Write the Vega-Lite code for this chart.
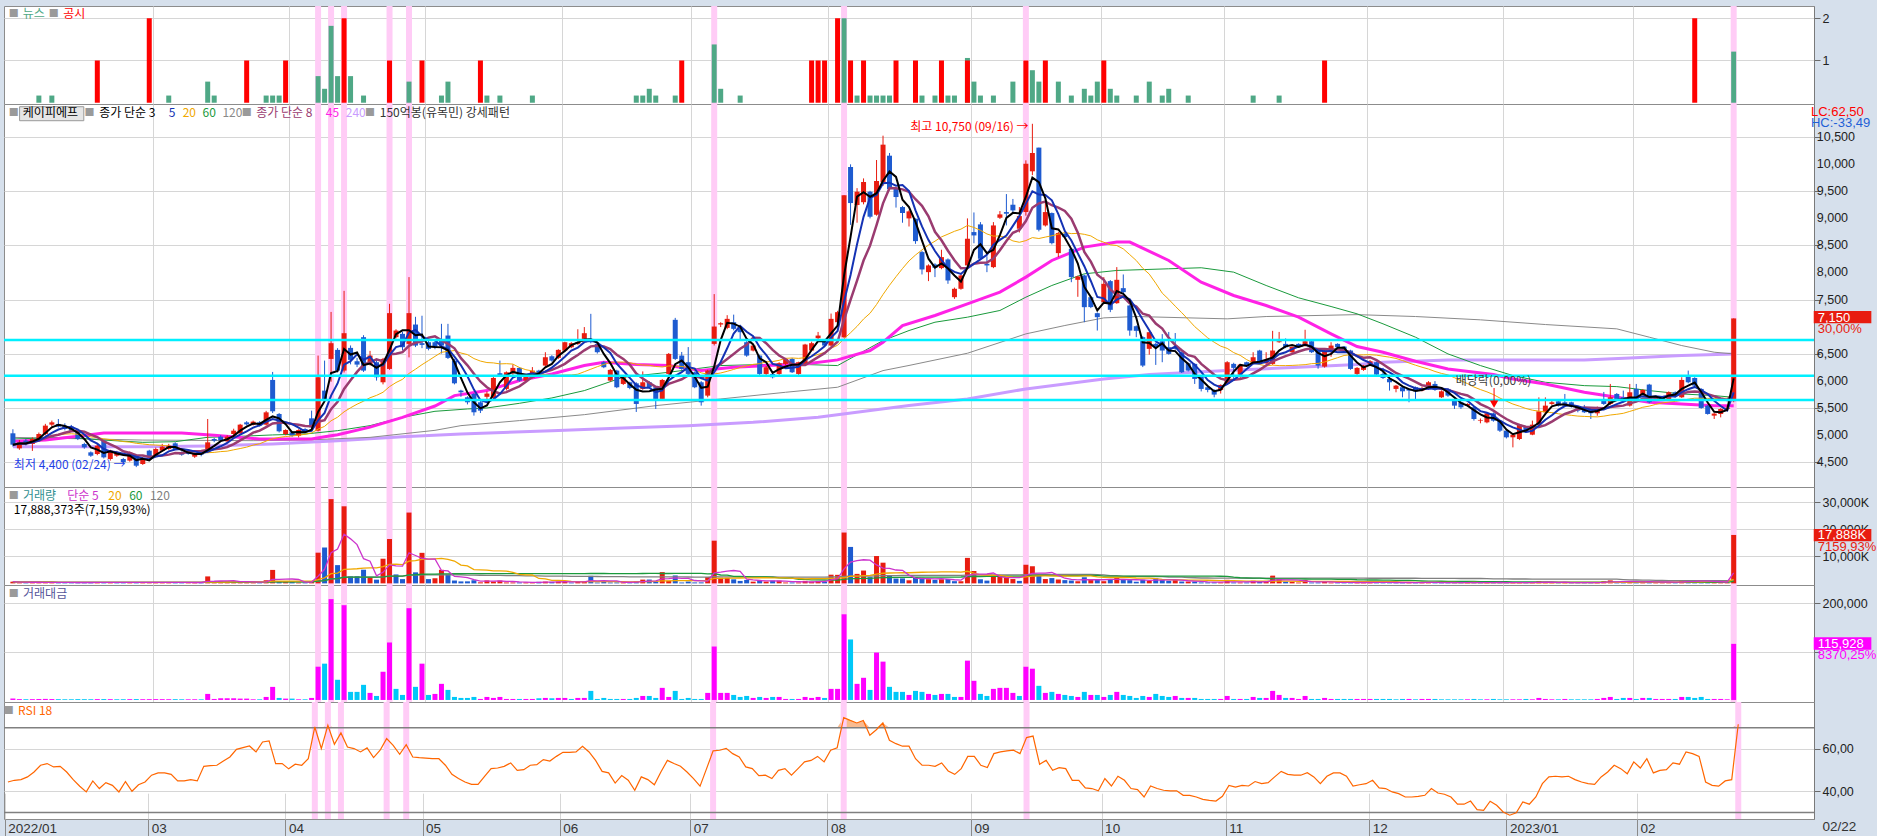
{
  "$schema": "https://vega.github.io/schema/vega-lite/v6.json",
  "background": "#d6e0ec",
  "padding": {"left": 2, "top": 2, "right": 0, "bottom": 0},
  "spacing": 0,
  "bounds": "flush",
  "config": {
    "view": {"stroke": "#8c8c8c", "fill": "#ffffff"},
    "axis": {"labelFont": "Liberation Sans", "labelFontSize": 12.5, "labelColor": "#222222", "tickColor": "#6a6a6a", "domainColor": "#7a7a7a", "gridColor": "#d6d6d6", "labelPadding": 2, "labelOverlap": false},
    "text": {"font": "Noto Sans CJK KR", "fontSize": 12}
  },
  "datasets": {
    "d": [
      {"i":0,"o":5025,"h":5100,"l":4780,"c":4815,"v":623,"a":3000,"r":44.4},
      {"i":1,"o":4747,"h":4900,"l":4720,"c":4858,"v":371,"a":1800,"r":45.2},
      {"i":2,"o":4890,"h":4920,"l":4800,"c":4840,"v":331,"a":1600,"r":45.5},
      {"i":3,"o":4827,"h":4950,"l":4700,"c":4920,"v":346,"a":1700,"r":46.8},
      {"i":4,"o":4920,"h":5040,"l":4900,"c":5012,"v":399,"a":2000,"r":49.1,"n":0.17},
      {"i":5,"o":5012,"h":5200,"l":4990,"c":5167,"v":426,"a":2200,"r":52.3},
      {"i":6,"o":5185,"h":5260,"l":5150,"c":5228,"v":363,"a":1900,"r":53.1,"n":0.17},
      {"i":7,"o":5198,"h":5290,"l":5130,"c":5148,"v":330,"a":1700,"r":51.5},
      {"i":8,"o":5167,"h":5210,"l":5080,"c":5105,"v":294,"a":1500,"r":51.8},
      {"i":9,"o":5148,"h":5180,"l":5050,"c":5074,"v":296,"a":1500,"r":49.1},
      {"i":10,"o":5086,"h":5110,"l":4900,"c":4920,"v":366,"a":1800,"r":45.5},
      {"i":11,"o":4827,"h":4850,"l":4740,"c":4765,"v":357,"a":1700,"r":42.4},
      {"i":12,"o":4673,"h":4690,"l":4590,"c":4611,"v":347,"a":1600,"r":39.7},
      {"i":13,"o":4642,"h":4830,"l":4620,"c":4796,"v":375,"a":1800,"r":44.9,"g":1},
      {"i":14,"o":4889,"h":4900,"l":4560,"c":4580,"v":415,"a":1900,"r":41.3},
      {"i":15,"o":4550,"h":4720,"l":4520,"c":4704,"v":361,"a":1700,"r":44.1},
      {"i":16,"o":4611,"h":4700,"l":4590,"c":4673,"v":321,"a":1500,"r":42.8},
      {"i":17,"o":4550,"h":4570,"l":4470,"c":4490,"v":356,"a":1600,"r":39.7},
      {"i":18,"o":4520,"h":4690,"l":4500,"c":4673,"v":364,"a":1700,"r":44.6},
      {"i":19,"o":4611,"h":4630,"l":4400,"c":4426,"v":429,"a":1900,"r":40.0},
      {"i":20,"o":4457,"h":4580,"l":4440,"c":4568,"v":350,"a":1600,"r":43.1},
      {"i":21,"o":4704,"h":4720,"l":4560,"c":4580,"v":371,"a":1700,"r":44.4,"g":2},
      {"i":22,"o":4611,"h":4760,"l":4600,"c":4735,"v":380,"a":1800,"r":47.6},
      {"i":23,"o":4704,"h":4830,"l":4690,"c":4778,"v":356,"a":1700,"r":48.7},
      {"i":24,"o":4735,"h":4830,"l":4720,"c":4796,"v":334,"a":1600,"r":48.7,"n":0.17},
      {"i":25,"o":4840,"h":4860,"l":4720,"c":4735,"v":359,"a":1700,"r":48.0},
      {"i":26,"o":4673,"h":4690,"l":4610,"c":4630,"v":324,"a":1500,"r":44.9},
      {"i":27,"o":4673,"h":4680,"l":4630,"c":4642,"v":302,"a":1400,"r":44.9},
      {"i":28,"o":4593,"h":4670,"l":4570,"c":4654,"v":322,"a":1500,"r":45.5},
      {"i":29,"o":4654,"h":4660,"l":4600,"c":4630,"v":302,"a":1400,"r":44.9},
      {"i":30,"o":4673,"h":5290,"l":4660,"c":4858,"v":2573,"a":12500,"r":51.8,"n":0.5},
      {"i":31,"o":4920,"h":4940,"l":4860,"c":4889,"v":430,"a":2100,"r":52.1,"n":0.17},
      {"i":32,"o":4963,"h":4990,"l":4870,"c":4895,"v":716,"a":3500,"r":52.3},
      {"i":33,"o":4877,"h":4990,"l":4860,"c":4963,"v":705,"a":3500,"r":54.3},
      {"i":34,"o":5012,"h":5110,"l":4990,"c":5074,"v":690,"a":3500,"r":56.2},
      {"i":35,"o":5025,"h":5200,"l":5000,"c":5185,"v":540,"a":2800,"r":59.8},
      {"i":36,"o":5228,"h":5250,"l":5170,"c":5190,"v":540,"a":2800,"r":60.6,"g":1},
      {"i":37,"o":5185,"h":5260,"l":5170,"c":5241,"v":267,"a":1400,"r":61.4},
      {"i":38,"o":5228,"h":5250,"l":5150,"c":5167,"v":271,"a":1400,"r":58.6},
      {"i":39,"o":5185,"h":5440,"l":5170,"c":5413,"v":1155,"a":6250,"r":63.3,"n":0.17},
      {"i":40,"o":6012,"h":6160,"l":5400,"c":5432,"v":4970,"a":27000,"r":63.8,"n":0.17},
      {"i":41,"o":5383,"h":5400,"l":5040,"c":5062,"v":830,"a":4200,"r":53.1,"n":0.17},
      {"i":42,"o":5012,"h":5100,"l":4990,"c":5086,"v":551,"a":2800,"r":53.1,"g":1},
      {"i":43,"o":5043,"h":5060,"l":4960,"c":4980,"v":562,"a":2800,"r":50.6},
      {"i":44,"o":4980,"h":5100,"l":4950,"c":5086,"v":275,"a":1400,"r":52.8},
      {"i":45,"o":5105,"h":5120,"l":5040,"c":5062,"v":277,"a":1400,"r":52.3},
      {"i":46,"o":5302,"h":5444,"l":5120,"c":5136,"v":818,"a":4200,"r":55.4},
      {"i":47,"o":5074,"h":6463,"l":5060,"c":6062,"v":11341,"a":68750,"r":70.4,"n":0.63,"hl":1},
      {"i":48,"o":5815,"h":6370,"l":5640,"c":5660,"v":13251,"a":75000,"r":60.2,"n":0.33},
      {"i":49,"o":6401,"h":7270,"l":5980,"c":6692,"v":31127,"a":208300,"r":71.2,"n":1.82,"hl":1},
      {"i":50,"o":6568,"h":6600,"l":6150,"c":6185,"v":6742,"a":41700,"r":62.2,"n":0.63},
      {"i":51,"o":6185,"h":7660,"l":6150,"c":6877,"v":28472,"a":195800,"r":67.6,"g":2,"hl":1},
      {"i":52,"o":6605,"h":6650,"l":6300,"c":6383,"v":2616,"a":16700,"r":60.9,"n":0.63},
      {"i":53,"o":6358,"h":6420,"l":6250,"c":6296,"v":2652,"a":16700,"r":60.2},
      {"i":54,"o":6803,"h":6840,"l":6160,"c":6185,"v":5052,"a":31250,"r":58.6,"n":0.17},
      {"i":55,"o":6309,"h":6550,"l":6280,"c":6463,"v":2259,"a":14600,"r":60.5},
      {"i":56,"o":6340,"h":6380,"l":6000,"c":6062,"v":1369,"a":8300,"r":55.9},
      {"i":57,"o":5969,"h":6420,"l":5930,"c":6401,"v":9108,"a":58300,"r":59.4},
      {"i":58,"o":6216,"h":7420,"l":6200,"c":7248,"v":16384,"a":118750,"r":64.9,"g":1,"hl":1},
      {"i":59,"o":6803,"h":6950,"l":6780,"c":6926,"v":3306,"a":22900,"r":61.7},
      {"i":60,"o":6865,"h":6900,"l":6560,"c":6617,"v":1572,"a":10400,"r":57.5},
      {"i":61,"o":6679,"h":7914,"l":6430,"c":7248,"v":26159,"a":189600,"r":62.0,"n":0.5,"hl":1},
      {"i":62,"o":7037,"h":7180,"l":6620,"c":6648,"v":4076,"a":27100,"r":56.2},
      {"i":63,"o":6692,"h":7200,"l":6600,"c":6660,"v":11282,"a":75000,"r":55.9,"g":1},
      {"i":64,"o":6710,"h":6750,"l":6560,"c":6587,"v":1579,"a":10400,"r":55.7},
      {"i":65,"o":6710,"h":6740,"l":6580,"c":6617,"v":1889,"a":12500,"r":55.4},
      {"i":66,"o":6741,"h":7050,"l":6500,"c":6648,"v":5009,"a":33300,"r":55.4,"n":0.17},
      {"i":67,"o":6834,"h":7050,"l":6400,"c":6420,"v":3240,"a":20800,"r":52.3,"n":0.5},
      {"i":68,"o":6370,"h":6400,"l":5930,"c":5950,"v":1050,"a":6250,"r":48.0},
      {"i":69,"o":5815,"h":5830,"l":5700,"c":5784,"v":726,"a":4200,"r":46.0},
      {"i":70,"o":5691,"h":5710,"l":5560,"c":5599,"v":750,"a":4200,"r":44.4},
      {"i":71,"o":5753,"h":5770,"l":5352,"c":5414,"v":1154,"a":6250,"r":43.3},
      {"i":72,"o":5599,"h":5620,"l":5400,"c":5444,"v":386,"a":2100,"r":43.3,"g":1},
      {"i":73,"o":5700,"h":5800,"l":5640,"c":5760,"v":1085,"a":6250,"r":47.1,"n":0.17},
      {"i":74,"o":5679,"h":6070,"l":5650,"c":6049,"v":694,"a":4200,"r":50.7},
      {"i":75,"o":6136,"h":6370,"l":6070,"c":6093,"v":1026,"a":6250,"r":51.0,"n":0.17},
      {"i":76,"o":5846,"h":6170,"l":5820,"c":6154,"v":341,"a":2100,"r":51.8},
      {"i":77,"o":6136,"h":6300,"l":6100,"c":6235,"v":337,"a":2100,"r":53.4},
      {"i":78,"o":6235,"h":6250,"l":5980,"c":6000,"v":350,"a":2100,"r":49.9},
      {"i":79,"o":6000,"h":6110,"l":5980,"c":6093,"v":345,"a":2100,"r":50.2},
      {"i":80,"o":6062,"h":6250,"l":6040,"c":6185,"v":340,"a":2100,"r":52.3,"n":0.17},
      {"i":81,"o":6185,"h":6200,"l":6100,"c":6123,"v":572,"a":3500,"r":52.6},
      {"i":82,"o":6278,"h":6525,"l":6260,"c":6432,"v":653,"a":4200,"r":55.0},
      {"i":83,"o":6450,"h":6470,"l":6350,"c":6370,"v":549,"a":3500,"r":54.3},
      {"i":84,"o":6420,"h":6580,"l":6400,"c":6568,"v":639,"a":4200,"r":56.5},
      {"i":85,"o":6556,"h":6720,"l":6530,"c":6710,"v":626,"a":4200,"r":58.4},
      {"i":86,"o":6617,"h":6710,"l":6600,"c":6692,"v":314,"a":2100,"r":58.4},
      {"i":87,"o":6679,"h":6950,"l":6660,"c":6710,"v":626,"a":4200,"r":58.6},
      {"i":88,"o":6710,"h":6990,"l":6700,"c":6877,"v":611,"a":4200,"r":61.3},
      {"i":89,"o":6772,"h":7235,"l":6690,"c":6710,"v":2794,"a":18750,"r":58.6},
      {"i":90,"o":6679,"h":6700,"l":6500,"c":6525,"v":322,"a":2100,"r":54.6},
      {"i":91,"o":6340,"h":6360,"l":6230,"c":6247,"v":672,"a":4200,"r":49.4},
      {"i":92,"o":6000,"h":6215,"l":5980,"c":6198,"v":339,"a":2100,"r":48.7},
      {"i":93,"o":6185,"h":6200,"l":5860,"c":5877,"v":357,"a":2100,"r":43.9},
      {"i":94,"o":5938,"h":6080,"l":5920,"c":6062,"v":346,"a":2100,"r":47.4},
      {"i":95,"o":5969,"h":5980,"l":5840,"c":5864,"v":358,"a":2100,"r":45.2},
      {"i":96,"o":5950,"h":5970,"l":5420,"c":5568,"v":754,"a":4200,"r":40.5,"n":0.17},
      {"i":97,"o":5846,"h":6170,"l":5830,"c":5969,"v":1390,"a":8300,"r":46.8,"n":0.17},
      {"i":98,"o":5969,"h":5990,"l":5860,"c":5877,"v":1412,"a":8300,"r":45.5,"n":0.33},
      {"i":99,"o":5877,"h":5890,"l":5475,"c":5661,"v":742,"a":4200,"r":43.1,"n":0.17},
      {"i":100,"o":5661,"h":6030,"l":5640,"c":6012,"v":4158,"a":25000,"r":49.1},
      {"i":101,"o":6123,"h":6510,"l":6100,"c":6494,"v":962,"a":6250,"r":54.6},
      {"i":102,"o":7124,"h":7160,"l":6380,"c":6401,"v":2929,"a":18750,"r":53.1,"n":0.17},
      {"i":103,"o":6463,"h":6530,"l":6200,"c":6216,"v":338,"a":2100,"r":51.8,"g":1},
      {"i":104,"o":6340,"h":6620,"l":6100,"c":6123,"v":686,"a":4200,"r":49.1},
      {"i":105,"o":6154,"h":6170,"l":5860,"c":5877,"v":357,"a":2100,"r":46.0},
      {"i":106,"o":5969,"h":5990,"l":5537,"c":5599,"v":375,"a":2100,"r":42.4},
      {"i":107,"o":5722,"h":6200,"l":5691,"c":6185,"v":2361,"a":14600,"r":50.7},
      {"i":108,"o":6679,"h":7600,"l":6650,"c":7000,"v":15771,"a":110400,"r":59.1,"n":1.38,"hl":1},
      {"i":109,"o":7037,"h":7080,"l":6990,"c":7062,"v":2067,"a":14600,"r":59.4,"n":0.33},
      {"i":110,"o":6975,"h":7210,"l":6950,"c":7142,"v":2044,"a":14600,"r":60.3},
      {"i":111,"o":7080,"h":7220,"l":6930,"c":6957,"v":1495,"a":10400,"r":57.8},
      {"i":112,"o":6988,"h":7000,"l":6760,"c":6895,"v":906,"a":6250,"r":56.2,"n":0.17},
      {"i":113,"o":6710,"h":6730,"l":6440,"c":6463,"v":1284,"a":8300,"r":51.5},
      {"i":114,"o":6556,"h":6660,"l":6540,"c":6648,"v":632,"a":4200,"r":50.7},
      {"i":115,"o":6463,"h":6480,"l":6100,"c":6123,"v":1021,"a":6250,"r":47.4},
      {"i":116,"o":6123,"h":6270,"l":6100,"c":6247,"v":672,"a":4200,"r":47.6},
      {"i":117,"o":6123,"h":6140,"l":6040,"c":6062,"v":1031,"a":6250,"r":46.0},
      {"i":118,"o":6123,"h":6340,"l":6100,"c":6321,"v":989,"a":6250,"r":49.9},
      {"i":119,"o":6309,"h":6420,"l":6290,"c":6401,"v":328,"a":2100,"r":50.7},
      {"i":120,"o":6401,"h":6420,"l":6140,"c":6154,"v":341,"a":2100,"r":47.6},
      {"i":121,"o":6123,"h":6350,"l":6100,"c":6340,"v":331,"a":2100,"r":50.7},
      {"i":122,"o":6309,"h":6680,"l":6290,"c":6667,"v":937,"a":6250,"r":53.9},
      {"i":123,"o":6556,"h":6720,"l":6540,"c":6692,"v":628,"a":4200,"r":54.6,"g":1},
      {"i":124,"o":6784,"h":6900,"l":6770,"c":6833,"v":915,"a":6250,"r":56.5,"g":1},
      {"i":125,"o":6741,"h":6760,"l":6630,"c":6648,"v":632,"a":4200,"r":53.9,"g":1},
      {"i":126,"o":6648,"h":7240,"l":6630,"c":7142,"v":3206,"a":22900,"r":59.4},
      {"i":127,"o":7080,"h":7290,"l":7060,"c":7266,"v":3152,"a":22900,"r":60.6,"g":2},
      {"i":128,"o":6803,"h":9430,"l":6790,"c":9426,"v":18778,"a":177000,"r":74.8,"n":2,"hl":1},
      {"i":129,"o":9951,"h":10000,"l":8880,"c":9284,"v":13464,"a":125000,"r":73.5,"g":1},
      {"i":130,"o":9247,"h":9560,"l":8920,"c":9494,"v":3507,"a":33300,"r":72.3,"n":0.17},
      {"i":131,"o":9300,"h":9740,"l":9260,"c":9673,"v":4735,"a":45800,"r":73.5,"g":1},
      {"i":132,"o":9494,"h":9510,"l":9000,"c":9031,"v":2303,"a":20800,"r":66.5,"n":0.17},
      {"i":133,"o":9068,"h":10080,"l":9050,"c":9692,"v":10101,"a":97900,"r":69.1,"n":0.17},
      {"i":134,"o":9667,"h":10530,"l":9600,"c":10364,"v":7642,"a":79200,"r":72.3,"n":0.17},
      {"i":135,"o":10160,"h":10210,"l":9520,"c":9543,"v":2840,"a":27100,"r":64.1,"n":0.17},
      {"i":136,"o":9550,"h":9560,"l":9200,"c":9395,"v":1778,"a":16700,"r":62.5,"g":1},
      {"i":137,"o":9210,"h":9230,"l":8920,"c":9100,"v":1835,"a":16700,"r":61.3},
      {"i":138,"o":9000,"h":9150,"l":8850,"c":9130,"v":1139,"a":10400,"r":61.3},
      {"i":139,"o":8994,"h":9000,"l":8530,"c":8580,"v":2185,"a":18750,"r":55.4,"g":1},
      {"i":140,"o":8377,"h":8400,"l":7963,"c":8056,"v":2073,"a":16700,"r":52.3,"n":0.17},
      {"i":141,"o":8006,"h":8150,"l":7840,"c":8130,"v":1537,"a":12500,"r":52.3},
      {"i":142,"o":8148,"h":8170,"l":7914,"c":8087,"v":1286,"a":10400,"r":51.8,"n":0.17},
      {"i":143,"o":8081,"h":8420,"l":8060,"c":8284,"v":1509,"a":12500,"r":53.4,"g":1},
      {"i":144,"o":8241,"h":8260,"l":7790,"c":7852,"v":1592,"a":12500,"r":49.6,"n":0.17},
      {"i":145,"o":7543,"h":7720,"l":7512,"c":7698,"v":812,"a":6250,"r":48.0,"n":0.17},
      {"i":146,"o":7698,"h":7960,"l":7680,"c":7945,"v":787,"a":6250,"r":50.7},
      {"i":147,"o":8130,"h":9000,"l":8100,"c":8624,"v":9421,"a":81250,"r":56.5,"n":1.06,"g":1},
      {"i":148,"o":8747,"h":9110,"l":8540,"c":8685,"v":4560,"a":39600,"r":56.5,"n":0.5},
      {"i":149,"o":8889,"h":8932,"l":8230,"c":8254,"v":1514,"a":12500,"r":52.3,"n":0.17},
      {"i":150,"o":8160,"h":8300,"l":8006,"c":8130,"v":1021,"a":8300,"r":51.2},
      {"i":151,"o":8099,"h":8932,"l":8080,"c":8870,"v":2582,"a":22900,"r":57.8,"n":0.17},
      {"i":152,"o":9012,"h":9136,"l":8990,"c":9074,"v":2755,"a":25000,"r":58.6},
      {"i":153,"o":9117,"h":9450,"l":8870,"c":9087,"v":2751,"a":25000,"r":59.1},
      {"i":154,"o":9253,"h":9360,"l":9100,"c":9148,"v":1596,"a":14600,"r":59.4,"n":0.5},
      {"i":155,"o":8809,"h":9210,"l":8740,"c":9043,"v":918,"a":8300,"r":57.8},
      {"i":156,"o":9117,"h":10074,"l":9050,"c":10012,"v":6867,"a":68750,"r":65.4,"g":1,"hl":1},
      {"i":157,"o":9871,"h":10750,"l":9800,"c":10210,"v":6327,"a":64600,"r":66.1,"n":0.77},
      {"i":158,"o":10309,"h":10309,"l":8760,"c":8790,"v":3322,"a":29200,"r":52.8,"n":0.5},
      {"i":159,"o":8870,"h":9300,"l":8850,"c":9117,"v":1601,"a":14600,"r":54.6,"g":1},
      {"i":160,"o":9099,"h":9110,"l":8519,"c":8543,"v":1955,"a":16700,"r":49.9},
      {"i":161,"o":8358,"h":8750,"l":8284,"c":8729,"v":1432,"a":12500,"r":51.2,"n":0.5},
      {"i":162,"o":8716,"h":8730,"l":8640,"c":8654,"v":1202,"a":10400,"r":50.7},
      {"i":163,"o":8438,"h":8450,"l":7820,"c":7914,"v":1049,"a":8300,"r":45.2,"n":0.17},
      {"i":164,"o":7864,"h":7940,"l":7550,"c":7926,"v":789,"a":6250,"r":45.2},
      {"i":165,"o":7945,"h":7960,"l":7080,"c":7358,"v":2270,"a":16700,"r":41.6,"n":0.33},
      {"i":166,"o":7543,"h":7560,"l":7340,"c":7360,"v":1413,"a":10400,"r":41.3,"n":0.17},
      {"i":167,"o":7247,"h":7260,"l":6926,"c":7173,"v":1450,"a":10400,"r":40.2,"n":0.5},
      {"i":168,"o":7451,"h":7914,"l":7430,"c":7790,"v":802,"a":6250,"r":46.0,"g":1},
      {"i":169,"o":7840,"h":7860,"l":7266,"c":7309,"v":1423,"a":10400,"r":42.5,"n":0.33},
      {"i":170,"o":7432,"h":8099,"l":7420,"c":7864,"v":2124,"a":16700,"r":47.1,"n":0.17},
      {"i":171,"o":7710,"h":7963,"l":7620,"c":7636,"v":1362,"a":10400,"r":45.2},
      {"i":172,"o":7389,"h":7400,"l":6830,"c":6926,"v":1198,"a":8300,"r":41.3},
      {"i":173,"o":7006,"h":7020,"l":6803,"c":6920,"v":606,"a":4200,"r":40.8,"n":0.17},
      {"i":174,"o":6803,"h":6820,"l":6250,"c":6278,"v":1322,"a":8300,"r":37.3},
      {"i":175,"o":6587,"h":6900,"l":6480,"c":6895,"v":906,"a":6250,"r":42.5,"n":0.5},
      {"i":176,"o":6679,"h":6700,"l":6290,"c":6617,"v":1889,"a":12500,"r":41.3},
      {"i":177,"o":6728,"h":6860,"l":6340,"c":6556,"v":1266,"a":8300,"r":40.5,"n":0.17},
      {"i":178,"o":6617,"h":6900,"l":6480,"c":6494,"v":962,"a":6250,"r":40.2,"n":0.33},
      {"i":179,"o":6617,"h":6880,"l":6570,"c":6587,"v":1260,"a":8300,"r":40.2},
      {"i":180,"o":6525,"h":6540,"l":6140,"c":6154,"v":682,"a":4200,"r":38.1},
      {"i":181,"o":6321,"h":6330,"l":6170,"c":6185,"v":679,"a":4200,"r":38.1,"n":0.17},
      {"i":182,"o":6309,"h":6320,"l":5938,"c":6031,"v":696,"a":4200,"r":37.3},
      {"i":183,"o":6074,"h":6090,"l":5800,"c":5846,"v":359,"a":2100,"r":36.2},
      {"i":184,"o":5877,"h":5890,"l":5784,"c":5827,"v":360,"a":2100,"r":35.7},
      {"i":185,"o":5827,"h":5840,"l":5691,"c":5741,"v":366,"a":2100,"r":35.4},
      {"i":186,"o":5827,"h":5930,"l":5760,"c":5920,"v":355,"a":2100,"r":37.6},
      {"i":187,"o":5938,"h":6360,"l":5920,"c":6340,"v":1309,"a":8300,"r":42.8},
      {"i":188,"o":6309,"h":6330,"l":6000,"c":6235,"v":337,"a":2100,"r":42.0},
      {"i":189,"o":6111,"h":6310,"l":6030,"c":6296,"v":334,"a":2100,"r":42.8},
      {"i":190,"o":6340,"h":6350,"l":6260,"c":6278,"v":335,"a":2100,"r":42.5},
      {"i":191,"o":6321,"h":6525,"l":6300,"c":6432,"v":972,"a":6250,"r":44.6,"n":0.17},
      {"i":192,"o":6556,"h":6570,"l":6320,"c":6340,"v":662,"a":4200,"r":43.6},
      {"i":193,"o":6321,"h":6525,"l":6300,"c":6383,"v":658,"a":4200,"r":44.1},
      {"i":194,"o":6309,"h":6920,"l":6290,"c":6556,"v":2860,"a":18750,"r":46.8},
      {"i":195,"o":6710,"h":6900,"l":6700,"c":6728,"v":1546,"a":10400,"r":49.4,"n":0.17},
      {"i":196,"o":6679,"h":6780,"l":6600,"c":6617,"v":635,"a":4200,"r":48.0},
      {"i":197,"o":6525,"h":6630,"l":6500,"c":6625,"v":635,"a":4200,"r":47.6},
      {"i":198,"o":6679,"h":6690,"l":6610,"c":6630,"v":317,"a":2100,"r":47.6},
      {"i":199,"o":6648,"h":6940,"l":6630,"c":6728,"v":1234,"a":8300,"r":48.8},
      {"i":200,"o":6728,"h":6740,"l":6510,"c":6525,"v":322,"a":2100,"r":46.8},
      {"i":201,"o":6556,"h":6570,"l":6220,"c":6278,"v":334,"a":2100,"r":43.6},
      {"i":202,"o":6259,"h":6570,"l":6240,"c":6556,"v":641,"a":4200,"r":47.1,"g":1},
      {"i":203,"o":6556,"h":6710,"l":6440,"c":6648,"v":316,"a":2100,"r":48.7},
      {"i":204,"o":6679,"h":6690,"l":6600,"c":6617,"v":317,"a":2100,"r":48.7},
      {"i":205,"o":6630,"h":6640,"l":6540,"c":6556,"v":320,"a":2100,"r":47.1},
      {"i":206,"o":6556,"h":6570,"l":6200,"c":6216,"v":338,"a":2100,"r":42.5},
      {"i":207,"o":6123,"h":6250,"l":6100,"c":6235,"v":337,"a":2100,"r":43.1},
      {"i":208,"o":6198,"h":6290,"l":6180,"c":6278,"v":334,"a":2100,"r":43.6},
      {"i":209,"o":6309,"h":6380,"l":6300,"c":6358,"v":330,"a":2100,"r":45.2},
      {"i":210,"o":6340,"h":6350,"l":6100,"c":6111,"v":344,"a":2100,"r":41.6},
      {"i":211,"o":6123,"h":6235,"l":6030,"c":6049,"v":347,"a":2100,"r":41.3},
      {"i":212,"o":6031,"h":6040,"l":5815,"c":5969,"v":352,"a":2100,"r":39.7},
      {"i":213,"o":5846,"h":5920,"l":5784,"c":5907,"v":237,"a":1400,"r":38.9},
      {"i":214,"o":5877,"h":5890,"l":5691,"c":5802,"v":362,"a":2100,"r":37.3},
      {"i":215,"o":5846,"h":5860,"l":5599,"c":5815,"v":361,"a":2100,"r":37.3},
      {"i":216,"o":5877,"h":5890,"l":5630,"c":5802,"v":241,"a":1400,"r":37.6},
      {"i":217,"o":5815,"h":5880,"l":5800,"c":5864,"v":358,"a":2100,"r":38.1},
      {"i":218,"o":5846,"h":5990,"l":5830,"c":5969,"v":352,"a":2100,"r":41.3},
      {"i":219,"o":5938,"h":5990,"l":5810,"c":5827,"v":360,"a":2100,"r":39.2},
      {"i":220,"o":5691,"h":5820,"l":5680,"c":5802,"v":241,"a":1400,"r":38.6},
      {"i":221,"o":5846,"h":5860,"l":5700,"c":5722,"v":245,"a":1400,"r":37.3},
      {"i":222,"o":5660,"h":5670,"l":5475,"c":5537,"v":253,"a":1400,"r":33.9},
      {"i":223,"o":5599,"h":5610,"l":5475,"c":5506,"v":254,"a":1400,"r":33.9},
      {"i":224,"o":5537,"h":5580,"l":5520,"c":5568,"v":251,"a":1400,"r":35.4},
      {"i":225,"o":5506,"h":5520,"l":5260,"c":5290,"v":397,"a":2100,"r":31.3},
      {"i":226,"o":5260,"h":5300,"l":5210,"c":5272,"v":266,"a":1400,"r":31.0},
      {"i":227,"o":5228,"h":5410,"l":5210,"c":5395,"v":259,"a":1400,"r":35.3},
      {"i":228,"o":5395,"h":5410,"l":5240,"c":5259,"v":399,"a":2100,"r":33.4},
      {"i":229,"o":5259,"h":5270,"l":5050,"c":5074,"v":276,"a":1400,"r":30.2},
      {"i":230,"o":5074,"h":5090,"l":4930,"c":4951,"v":283,"a":1400,"r":28.7},
      {"i":231,"o":4951,"h":5012,"l":4765,"c":5000,"v":280,"a":1400,"r":29.8},
      {"i":232,"o":4920,"h":5200,"l":4900,"c":5185,"v":270,"a":1400,"r":35.0},
      {"i":233,"o":5148,"h":5160,"l":5030,"c":5043,"v":416,"a":2100,"r":33.9},
      {"i":234,"o":5000,"h":5260,"l":4990,"c":5185,"v":270,"a":1400,"r":37.3},
      {"i":235,"o":5185,"h":5690,"l":5170,"c":5432,"v":773,"a":4200,"r":43.6},
      {"i":236,"o":5414,"h":5690,"l":5400,"c":5537,"v":379,"a":2100,"r":46.8},
      {"i":237,"o":5568,"h":5630,"l":5550,"c":5599,"v":250,"a":1400,"r":47.1},
      {"i":238,"o":5617,"h":5630,"l":5520,"c":5537,"v":253,"a":1400,"r":46.8},
      {"i":239,"o":5599,"h":5753,"l":5520,"c":5540,"v":379,"a":2100,"r":47.1},
      {"i":240,"o":5599,"h":5610,"l":5500,"c":5519,"v":254,"a":1400,"r":45.5},
      {"i":241,"o":5519,"h":5530,"l":5414,"c":5444,"v":257,"a":1400,"r":44.4},
      {"i":242,"o":5494,"h":5550,"l":5400,"c":5414,"v":259,"a":1400,"r":43.6},
      {"i":243,"o":5475,"h":5490,"l":5290,"c":5395,"v":259,"a":1400,"r":43.3},
      {"i":244,"o":5395,"h":5520,"l":5350,"c":5506,"v":381,"a":2100,"r":46.8},
      {"i":245,"o":5630,"h":5790,"l":5550,"c":5568,"v":754,"a":4200,"r":49.1},
      {"i":246,"o":5568,"h":5938,"l":5550,"c":5691,"v":1098,"a":6250,"r":52.3},
      {"i":247,"o":5753,"h":5770,"l":5640,"c":5660,"v":371,"a":2100,"r":50.7},
      {"i":248,"o":5691,"h":5815,"l":5600,"c":5617,"v":748,"a":4200,"r":48.3},
      {"i":249,"o":5537,"h":5938,"l":5520,"c":5784,"v":726,"a":4200,"r":53.9},
      {"i":250,"o":5846,"h":5938,"l":5640,"c":5660,"v":371,"a":2100,"r":51.0},
      {"i":251,"o":5741,"h":5840,"l":5730,"c":5827,"v":721,"a":4200,"r":55.4},
      {"i":252,"o":5926,"h":5940,"l":5580,"c":5599,"v":750,"a":4200,"r":48.7},
      {"i":253,"o":5660,"h":5700,"l":5630,"c":5691,"v":369,"a":2100,"r":49.9},
      {"i":254,"o":5660,"h":5710,"l":5630,"c":5700,"v":369,"a":2100,"r":50.2},
      {"i":255,"o":5660,"h":5800,"l":5650,"c":5784,"v":363,"a":2100,"r":53.4},
      {"i":256,"o":5784,"h":5800,"l":5730,"c":5741,"v":366,"a":2100,"r":52.8},
      {"i":257,"o":5691,"h":6062,"l":5680,"c":6012,"v":1040,"a":6250,"r":58.6},
      {"i":258,"o":6074,"h":6185,"l":5950,"c":5969,"v":1047,"a":6250,"r":57.8},
      {"i":259,"o":6049,"h":6062,"l":5890,"c":5907,"v":711,"a":4200,"r":56.5,"g":2},
      {"i":260,"o":5846,"h":5860,"l":5480,"c":5494,"v":1138,"a":6250,"r":44.4},
      {"i":261,"o":5537,"h":5550,"l":5370,"c":5383,"v":390,"a":2100,"r":42.8},
      {"i":262,"o":5352,"h":5400,"l":5290,"c":5390,"v":390,"a":2100,"r":42.4},
      {"i":263,"o":5383,"h":5490,"l":5320,"c":5475,"v":384,"a":2100,"r":44.9},
      {"i":264,"o":5475,"h":5540,"l":5460,"c":5500,"v":250,"a":1400,"r":45.5},
      {"i":265,"o":5620,"h":7150,"l":5600,"c":7150,"v":17888,"a":115928,"r":71.7,"n":1.21,"hl":1}
    ],
    "ma": [
      {"k":"45","i":0,"v":4880},{"k":"45","i":5,"v":4900},{"k":"45","i":10,"v":4970},{"k":"45","i":14,"v":5030},{"k":"45","i":20,"v":5030},{"k":"45","i":26,"v":5030},{"k":"45","i":31,"v":4990},{"k":"45","i":38,"v":4920},{"k":"45","i":46,"v":4920},{"k":"45","i":48,"v":4960},{"k":"45","i":50,"v":5000},{"k":"45","i":55,"v":5140},{"k":"45","i":60,"v":5320},{"k":"45","i":65,"v":5530},{"k":"45","i":68,"v":5722},{"k":"45","i":73,"v":5815},{"k":"45","i":78,"v":6000},{"k":"45","i":83,"v":6123},{"k":"45","i":88,"v":6278},{"k":"45","i":91,"v":6340},{"k":"45","i":96,"v":6296},{"k":"45","i":101,"v":6278},{"k":"45","i":106,"v":6185},{"k":"45","i":111,"v":6247},{"k":"45","i":116,"v":6278},{"k":"45","i":122,"v":6309},{"k":"45","i":127,"v":6383},{"k":"45","i":132,"v":6556},{"k":"45","i":134,"v":6710},{"k":"45","i":137,"v":7019},{"k":"45","i":142,"v":7204},{"k":"45","i":147,"v":7420},{"k":"45","i":152,"v":7636},{"k":"45","i":156,"v":7914},{"k":"45","i":160,"v":8222},{"k":"45","i":165,"v":8469},{"k":"45","i":170,"v":8562},{"k":"45","i":172,"v":8562},{"k":"45","i":178,"v":8222},{"k":"45","i":183,"v":7821},{"k":"45","i":188,"v":7574},{"k":"45","i":193,"v":7389},{"k":"45","i":198,"v":7173},{"k":"45","i":203,"v":6864},{"k":"45","i":207,"v":6630},{"k":"45","i":211,"v":6525},{"k":"45","i":216,"v":6358},{"k":"45","i":221,"v":6216},{"k":"45","i":228,"v":6111},{"k":"45","i":231,"v":6031},{"k":"45","i":236,"v":5938},{"k":"45","i":242,"v":5784},{"k":"45","i":247,"v":5691},{"k":"45","i":252,"v":5599},{"k":"45","i":257,"v":5568},{"k":"45","i":262,"v":5537},{"k":"45","i":265,"v":5537},
      {"k":"60","i":0,"v":4920},{"k":"60","i":8,"v":4951},{"k":"60","i":14,"v":4900},{"k":"60","i":20,"v":4858},{"k":"60","i":25,"v":4870},{"k":"60","i":30,"v":4951},{"k":"60","i":35,"v":4970},{"k":"60","i":40,"v":4995},{"k":"60","i":45,"v":5012},{"k":"60","i":50,"v":5074},{"k":"60","i":55,"v":5167},{"k":"60","i":60,"v":5321},{"k":"60","i":65,"v":5432},{"k":"60","i":70,"v":5475},{"k":"60","i":73,"v":5494},{"k":"60","i":78,"v":5580},{"k":"60","i":83,"v":5679},{"k":"60","i":88,"v":5815},{"k":"60","i":94,"v":6062},{"k":"60","i":101,"v":6154},{"k":"60","i":109,"v":6278},{"k":"60","i":119,"v":6309},{"k":"60","i":127,"v":6278},{"k":"60","i":134,"v":6741},{"k":"60","i":138,"v":6926},{"k":"60","i":142,"v":7080},{"k":"60","i":147,"v":7173},{"k":"60","i":152,"v":7297},{"k":"60","i":156,"v":7543},{"k":"60","i":160,"v":7759},{"k":"60","i":165,"v":7975},{"k":"60","i":170,"v":8037},{"k":"60","i":178,"v":8068},{"k":"60","i":183,"v":8087},{"k":"60","i":188,"v":8006},{"k":"60","i":193,"v":7759},{"k":"60","i":198,"v":7531},{"k":"60","i":203,"v":7370},{"k":"60","i":207,"v":7235},{"k":"60","i":211,"v":7050},{"k":"60","i":216,"v":6803},{"k":"60","i":221,"v":6494},{"k":"60","i":226,"v":6278},{"k":"60","i":231,"v":6093},{"k":"60","i":236,"v":5969},{"k":"60","i":242,"v":5907},{"k":"60","i":247,"v":5889},{"k":"60","i":252,"v":5815},{"k":"60","i":257,"v":5753},{"k":"60","i":262,"v":5722},{"k":"60","i":265,"v":5691},
      {"k":"120","i":0,"v":4950},{"k":"120","i":20,"v":4900},{"k":"120","i":37,"v":4889},{"k":"120","i":45,"v":4900},{"k":"120","i":55,"v":4950},{"k":"120","i":65,"v":5080},{"k":"120","i":69,"v":5167},{"k":"120","i":78,"v":5260},{"k":"120","i":88,"v":5370},{"k":"120","i":99,"v":5537},{"k":"120","i":109,"v":5660},{"k":"120","i":119,"v":5784},{"k":"120","i":127,"v":5877},{"k":"120","i":134,"v":6185},{"k":"120","i":138,"v":6280},{"k":"120","i":147,"v":6506},{"k":"120","i":156,"v":6864},{"k":"120","i":162,"v":7019},{"k":"120","i":168,"v":7160},{"k":"120","i":173,"v":7185},{"k":"120","i":187,"v":7142},{"k":"120","i":193,"v":7185},{"k":"120","i":207,"v":7220},{"k":"120","i":216,"v":7185},{"k":"120","i":226,"v":7124},{"k":"120","i":236,"v":7037},{"k":"120","i":247,"v":6957},{"k":"120","i":252,"v":6803},{"k":"120","i":257,"v":6648},{"k":"120","i":262,"v":6525},{"k":"120","i":265,"v":6494},
      {"k":"240","i":0,"v":4778},{"k":"240","i":20,"v":4778},{"k":"240","i":30,"v":4790},{"k":"240","i":40,"v":4827},{"k":"240","i":50,"v":4889},{"k":"240","i":60,"v":4963},{"k":"240","i":69,"v":5012},{"k":"240","i":83,"v":5074},{"k":"240","i":94,"v":5123},{"k":"240","i":104,"v":5167},{"k":"240","i":114,"v":5228},{"k":"240","i":124,"v":5321},{"k":"240","i":138,"v":5540},{"k":"240","i":147,"v":5660},{"k":"240","i":156,"v":5846},{"k":"240","i":168,"v":6031},{"k":"240","i":175,"v":6111},{"k":"240","i":187,"v":6185},{"k":"240","i":198,"v":6247},{"k":"240","i":207,"v":6296},{"k":"240","i":211,"v":6340},{"k":"240","i":221,"v":6383},{"k":"240","i":231,"v":6383},{"k":"240","i":242,"v":6383},{"k":"240","i":249,"v":6420},{"k":"240","i":257,"v":6463},{"k":"240","i":265,"v":6494}
    ]
  },
  "vconcat": [
    {
      "width": 1810,
      "height": 98,
      "data": {"name": "d"},
      "layer": [
        {
          "transform": [{"filter": "datum.hl == 1"}],
          "mark": {"type": "rule", "color": "#ffccf6", "strokeWidth": 6},
          "encoding": {
            "x": {"field": "i", "type": "quantitative", "scale": {"domain": [-0.6, 276.6], "nice": false, "zero": false}, "axis": {"values": [21.5,42.5,63.5,84.5,104.5,125.5,147.5,167.5,186.5,208.5,229.5,249.5], "labels": false, "ticks": false, "domain": false, "title": null, "grid": true}}
          }
        },
        {
          "transform": [{"filter": "datum.n > 0"}],
          "mark": {"type": "bar", "size": 5, "color": "#4fa886"},
          "encoding": {
            "x": {"field": "i", "type": "quantitative"},
            "y": {"field": "n", "type": "quantitative", "scale": {"domain": [-0.03, 2.29], "nice": false, "zero": false}, "axis": {"orient": "right", "title": null, "values": [1, 2], "format": "d", "tickSize": 6, "grid": true, "labelOverlap": false}},
            "y2": {"datum": 0}
          }
        },
        {
          "transform": [{"filter": "datum.g > 0"}],
          "mark": {"type": "bar", "size": 5, "color": "#ff0000"},
          "encoding": {
            "x": {"field": "i", "type": "quantitative"},
            "y": {"field": "g", "type": "quantitative"},
            "y2": {"datum": 0}
          }
        },
        {"data": {"values": [{}]}, "mark": {"type": "text", "align": "center", "baseline": "middle", "fontSize": 10, "color": "#9a9a9a"}, "encoding": {"x": {"datum": 0.15, "type": "quantitative"}, "y": {"datum": 2.1, "type": "quantitative"}, "text": {"value": "■"}}},
        {"data": {"values": [{}]}, "mark": {"type": "text", "align": "left", "baseline": "middle", "color": "#4fa886"}, "encoding": {"x": {"datum": 1.53, "type": "quantitative"}, "y": {"datum": 2.1, "type": "quantitative"}, "text": {"value": "뉴스"}}},
        {"data": {"values": [{}]}, "mark": {"type": "text", "align": "center", "baseline": "middle", "fontSize": 10, "color": "#9a9a9a"}, "encoding": {"x": {"datum": 6.3, "type": "quantitative"}, "y": {"datum": 2.1, "type": "quantitative"}, "text": {"value": "■"}}},
        {"data": {"values": [{}]}, "mark": {"type": "text", "align": "left", "baseline": "middle", "color": "#ff0000"}, "encoding": {"x": {"datum": 7.76, "type": "quantitative"}, "y": {"datum": 2.1, "type": "quantitative"}, "text": {"value": "공시"}}}
      ]
    },
    {
      "width": 1810,
      "height": 383,
      "data": {"name": "d"},
      "layer": [
        {
          "transform": [{"filter": "datum.hl == 1"}],
          "mark": {"type": "rule", "color": "#ffccf6", "strokeWidth": 6},
          "encoding": {
            "x": {"field": "i", "type": "quantitative", "scale": {"domain": [-0.6, 276.6], "nice": false, "zero": false}, "axis": {"values": [21.5,42.5,63.5,84.5,104.5,125.5,147.5,167.5,186.5,208.5,229.5,249.5], "labels": false, "ticks": false, "domain": false, "title": null, "grid": true}}
          }
        },
        {
          "data": {"name": "ma"},
          "transform": [{"filter": "datum.k == '240'"}],
          "mark": {"type": "line", "color": "#c99cff", "strokeWidth": 3},
          "encoding": {
            "x": {"field": "i", "type": "quantitative"},
            "y": {"field": "v", "type": "quantitative", "scale": {"domain": [4032, 11116], "nice": false, "zero": false}, "axis": {"orient": "right", "title": null, "values": [4500,5000,5500,6000,6500,7000,7500,8000,8500,9000,9500,10000,10500], "labels": false, "tickSize": 6, "grid": true}}
          }
        },
        {
          "data": {"name": "ma"},
          "transform": [{"filter": "datum.k == '120'"}],
          "mark": {"type": "line", "color": "#8a8a8a", "strokeWidth": 1},
          "encoding": {"x": {"field": "i", "type": "quantitative"}, "y": {"field": "v", "type": "quantitative"}}
        },
        {
          "data": {"name": "ma"},
          "transform": [{"filter": "datum.k == '60'"}],
          "mark": {"type": "line", "color": "#1a9a3c", "strokeWidth": 1},
          "encoding": {"x": {"field": "i", "type": "quantitative"}, "y": {"field": "v", "type": "quantitative"}}
        },
        {
          "data": {"name": "ma"},
          "transform": [{"filter": "datum.k == '45'"}],
          "mark": {"type": "line", "color": "#ff22e6", "strokeWidth": 3},
          "encoding": {"x": {"field": "i", "type": "quantitative"}, "y": {"field": "v", "type": "quantitative"}}
        },
        {
          "mark": {"type": "rule", "strokeWidth": 1},
          "encoding": {
            "x": {"field": "i", "type": "quantitative"},
            "y": {"field": "l", "type": "quantitative"},
            "y2": {"field": "h"},
            "color": {"condition": {"test": "datum.c >= datum.o", "value": "#e81c10"}, "value": "#1e5bd0"}
          }
        },
        {
          "mark": {"type": "bar", "size": 5},
          "encoding": {
            "x": {"field": "i", "type": "quantitative"},
            "y": {"field": "o", "type": "quantitative"},
            "y2": {"field": "c"},
            "color": {"condition": {"test": "datum.c >= datum.o", "value": "#e81c10"}, "value": "#1e5bd0"}
          }
        },
        {
          "transform": [{"window": [{"op": "mean", "field": "c", "as": "m"}], "frame": [-19, 0], "sort": [{"field": "i"}]}],
          "mark": {"type": "line", "color": "#f0a800", "strokeWidth": 1},
          "encoding": {"x": {"field": "i", "type": "quantitative"}, "y": {"field": "m", "type": "quantitative"}}
        },
        {
          "transform": [{"window": [{"op": "mean", "field": "c", "as": "m"}], "frame": [-7, 0], "sort": [{"field": "i"}]}],
          "mark": {"type": "line", "color": "#9a3b70", "strokeWidth": 2.5},
          "encoding": {"x": {"field": "i", "type": "quantitative"}, "y": {"field": "m", "type": "quantitative"}}
        },
        {
          "transform": [{"window": [{"op": "mean", "field": "c", "as": "m"}], "frame": [-4, 0], "sort": [{"field": "i"}]}],
          "mark": {"type": "line", "color": "#1432b4", "strokeWidth": 2},
          "encoding": {"x": {"field": "i", "type": "quantitative"}, "y": {"field": "m", "type": "quantitative"}}
        },
        {
          "transform": [{"window": [{"op": "mean", "field": "c", "as": "m"}], "frame": [-2, 0], "sort": [{"field": "i"}]}],
          "mark": {"type": "line", "color": "#000000", "strokeWidth": 2},
          "encoding": {"x": {"field": "i", "type": "quantitative"}, "y": {"field": "m", "type": "quantitative"}}
        },
        {
          "data": {"values": [{"p": 5641}, {"p": 6091}, {"p": 6751}]},
          "mark": {"type": "rule", "color": "#00f0ff", "strokeWidth": 2.6},
          "encoding": {"y": {"field": "p", "type": "quantitative"}}
        },
        {
          "data": {"values": [{"p": 4500}, {"p": 5000}, {"p": 5500}, {"p": 6000}, {"p": 6500}, {"p": 7500}, {"p": 8000}, {"p": 8500}, {"p": 9000}, {"p": 9500}, {"p": 10000}, {"p": 10500}]},
          "mark": {"type": "text", "align": "left", "baseline": "middle", "font": "Liberation Sans", "fontSize": 12.5, "color": "#222222"},
          "encoding": {"x": {"datum": 277.8, "type": "quantitative"}, "y": {"field": "p", "type": "quantitative"}, "text": {"field": "p", "type": "quantitative", "format": ","}}
        },
        {"data": {"values": [{}]}, "mark": {"type": "rule", "color": "#ff0000", "strokeWidth": 1}, "encoding": {"x": {"datum": 228.1, "type": "quantitative"}, "y": {"datum": 5863, "type": "quantitative"}, "y2": {"datum": 5600}}},
        {"data": {"values": [{}]}, "mark": {"type": "point", "shape": "triangle-down", "filled": true, "size": 70, "color": "#ff0000", "opacity": 1}, "encoding": {"x": {"datum": 228.1, "type": "quantitative"}, "y": {"datum": 5567, "type": "quantitative"}}},
        {"data": {"values": [{}]}, "mark": {"type": "text", "align": "left", "baseline": "middle", "color": "#404040"}, "encoding": {"x": {"datum": 222.2, "type": "quantitative"}, "y": {"datum": 5998, "type": "quantitative"}, "text": {"value": "배당락(0,00%)"}}},
        {"data": {"values": [{}]}, "mark": {"type": "text", "align": "right", "baseline": "middle", "color": "#ff0000"}, "encoding": {"x": {"datum": 156.4, "type": "quantitative"}, "y": {"datum": 10696, "type": "quantitative"}, "text": {"value": "최고 10,750 (09/16) →"}}},
        {"data": {"values": [{}]}, "mark": {"type": "text", "align": "left", "baseline": "middle", "color": "#1f3fe6"}, "encoding": {"x": {"datum": 0.15, "type": "quantitative"}, "y": {"datum": 4444, "type": "quantitative"}, "text": {"value": "최저 4,400 (02/24) →"}}},
        {"data": {"values": [{}]}, "mark": {"type": "rect", "fill": "#e6e6e6", "stroke": "#9a9a9a", "strokeWidth": 1}, "encoding": {"x": {"datum": 1.03, "type": "quantitative"}, "x2": {"datum": 10.92}, "y": {"datum": 11066, "type": "quantitative"}, "y2": {"datum": 10807}}},
        {"data": {"values": [{}]}, "mark": {"type": "text", "align": "center", "baseline": "middle", "fontSize": 10, "color": "#9a9a9a"}, "encoding": {"x": {"datum": 0.15, "type": "quantitative"}, "y": {"datum": 10950, "type": "quantitative"}, "text": {"value": "■"}}},
        {"data": {"values": [{}]}, "mark": {"type": "text", "align": "left", "baseline": "middle", "color": "#000000"}, "encoding": {"x": {"datum": 1.53, "type": "quantitative"}, "y": {"datum": 10950, "type": "quantitative"}, "text": {"value": "케이피에프"}}},
        {"data": {"values": [{}]}, "mark": {"type": "text", "align": "center", "baseline": "middle", "fontSize": 10, "color": "#9a9a9a"}, "encoding": {"x": {"datum": 11.8, "type": "quantitative"}, "y": {"datum": 10950, "type": "quantitative"}, "text": {"value": "■"}}},
        {"data": {"values": [{}]}, "mark": {"type": "text", "align": "left", "baseline": "middle", "color": "#000000"}, "encoding": {"x": {"datum": 13.28, "type": "quantitative"}, "y": {"datum": 10950, "type": "quantitative"}, "text": {"value": "종가 단순 3"}}},
        {"data": {"values": [{}]}, "mark": {"type": "text", "align": "left", "baseline": "middle", "color": "#1432b4"}, "encoding": {"x": {"datum": 24.0, "type": "quantitative"}, "y": {"datum": 10950, "type": "quantitative"}, "text": {"value": "5"}}},
        {"data": {"values": [{}]}, "mark": {"type": "text", "align": "left", "baseline": "middle", "color": "#f0a800"}, "encoding": {"x": {"datum": 26.14, "type": "quantitative"}, "y": {"datum": 10950, "type": "quantitative"}, "text": {"value": "20"}}},
        {"data": {"values": [{}]}, "mark": {"type": "text", "align": "left", "baseline": "middle", "color": "#1a9a3c"}, "encoding": {"x": {"datum": 29.2, "type": "quantitative"}, "y": {"datum": 10950, "type": "quantitative"}, "text": {"value": "60"}}},
        {"data": {"values": [{}]}, "mark": {"type": "text", "align": "left", "baseline": "middle", "color": "#8a8a8a"}, "encoding": {"x": {"datum": 32.27, "type": "quantitative"}, "y": {"datum": 10950, "type": "quantitative"}, "text": {"value": "120"}}},
        {"data": {"values": [{}]}, "mark": {"type": "text", "align": "center", "baseline": "middle", "fontSize": 10, "color": "#9a9a9a"}, "encoding": {"x": {"datum": 36.0, "type": "quantitative"}, "y": {"datum": 10950, "type": "quantitative"}, "text": {"value": "■"}}},
        {"data": {"values": [{}]}, "mark": {"type": "text", "align": "left", "baseline": "middle", "color": "#9a3b70"}, "encoding": {"x": {"datum": 37.47, "type": "quantitative"}, "y": {"datum": 10950, "type": "quantitative"}, "text": {"value": "종가 단순 8"}}},
        {"data": {"values": [{}]}, "mark": {"type": "text", "align": "left", "baseline": "middle", "color": "#ff22e6"}, "encoding": {"x": {"datum": 48.19, "type": "quantitative"}, "y": {"datum": 10950, "type": "quantitative"}, "text": {"value": "45"}}},
        {"data": {"values": [{}]}, "mark": {"type": "text", "align": "left", "baseline": "middle", "color": "#c99cff"}, "encoding": {"x": {"datum": 51.26, "type": "quantitative"}, "y": {"datum": 10950, "type": "quantitative"}, "text": {"value": "240"}}},
        {"data": {"values": [{}]}, "mark": {"type": "text", "align": "center", "baseline": "middle", "fontSize": 10, "color": "#9a9a9a"}, "encoding": {"x": {"datum": 55.0, "type": "quantitative"}, "y": {"datum": 10950, "type": "quantitative"}, "text": {"value": "■"}}},
        {"data": {"values": [{}]}, "mark": {"type": "text", "align": "left", "baseline": "middle", "color": "#333333"}, "encoding": {"x": {"datum": 56.5, "type": "quantitative"}, "y": {"datum": 10950, "type": "quantitative"}, "text": {"value": "150억봉(유목민) 강세패턴"}}},
        {"data": {"values": [{}]}, "mark": {"type": "text", "align": "left", "baseline": "middle", "font": "Liberation Sans", "fontSize": 13, "color": "#ff0000"}, "encoding": {"x": {"datum": 276.9, "type": "quantitative"}, "y": {"datum": 10968, "type": "quantitative"}, "text": {"value": "LC:62,50"}}},
        {"data": {"values": [{}]}, "mark": {"type": "text", "align": "left", "baseline": "middle", "font": "Liberation Sans", "fontSize": 13, "color": "#1f5fd6"}, "encoding": {"x": {"datum": 276.9, "type": "quantitative"}, "y": {"datum": 10759, "type": "quantitative"}, "text": {"value": "HC:-33,49"}}},
        {"data": {"values": [{}]}, "mark": {"type": "rect", "color": "#e81c10"}, "encoding": {"x": {"datum": 277.33, "type": "quantitative"}, "x2": {"datum": 286.2}, "y": {"datum": 7287, "type": "quantitative"}, "y2": {"datum": 7060}}},
        {"data": {"values": [{}]}, "mark": {"type": "text", "align": "left", "baseline": "middle", "font": "Liberation Sans", "fontSize": 13, "color": "#ffffff"}, "encoding": {"x": {"datum": 277.95, "type": "quantitative"}, "y": {"datum": 7165, "type": "quantitative"}, "text": {"value": "7,150"}}},
        {"data": {"values": [{}]}, "mark": {"type": "text", "align": "left", "baseline": "middle", "font": "Liberation Sans", "fontSize": 13, "color": "#e81c10"}, "encoding": {"x": {"datum": 277.95, "type": "quantitative"}, "y": {"datum": 6950, "type": "quantitative"}, "text": {"value": "30,00%"}}}
      ]
    },
    {
      "width": 1810,
      "height": 98,
      "data": {"name": "d"},
      "transform": [{"window": [{"op": "lag", "field": "c", "param": 1, "as": "pc"}], "sort": [{"field": "i"}]}],
      "layer": [
        {
          "transform": [{"filter": "datum.hl == 1"}],
          "mark": {"type": "rule", "color": "#ffccf6", "strokeWidth": 6},
          "encoding": {
            "x": {"field": "i", "type": "quantitative", "scale": {"domain": [-0.6, 276.6], "nice": false, "zero": false}, "axis": {"values": [21.5,42.5,63.5,84.5,104.5,125.5,147.5,167.5,186.5,208.5,229.5,249.5], "labels": false, "ticks": false, "domain": false, "title": null, "grid": true}}
          }
        },
        {
          "mark": {"type": "bar", "size": 5},
          "encoding": {
            "x": {"field": "i", "type": "quantitative"},
            "y": {"field": "v", "type": "quantitative", "scale": {"domain": [-600, 35600], "nice": false, "zero": false}, "axis": {"orient": "right", "title": null, "values": [10000, 20000, 30000], "labelExpr": "format(datum.value, ',') + 'K'", "tickSize": 6, "grid": true, "labelOverlap": false}},
            "y2": {"datum": 0},
            "color": {"condition": {"test": "datum.pc == null || datum.c >= datum.pc", "value": "#e81c10"}, "value": "#1e5bd0"}
          }
        },
        {
          "transform": [{"window": [{"op": "mean", "field": "v", "as": "m"}], "frame": [-119, 0], "sort": [{"field": "i"}]}],
          "mark": {"type": "line", "color": "#808080", "strokeWidth": 1.3},
          "encoding": {"x": {"field": "i", "type": "quantitative"}, "y": {"field": "m", "type": "quantitative"}}
        },
        {
          "transform": [{"window": [{"op": "mean", "field": "v", "as": "m"}], "frame": [-59, 0], "sort": [{"field": "i"}]}],
          "mark": {"type": "line", "color": "#1a9a3c", "strokeWidth": 1.3},
          "encoding": {"x": {"field": "i", "type": "quantitative"}, "y": {"field": "m", "type": "quantitative"}}
        },
        {
          "transform": [{"window": [{"op": "mean", "field": "v", "as": "m"}], "frame": [-19, 0], "sort": [{"field": "i"}]}],
          "mark": {"type": "line", "color": "#f0a800", "strokeWidth": 1.3},
          "encoding": {"x": {"field": "i", "type": "quantitative"}, "y": {"field": "m", "type": "quantitative"}}
        },
        {
          "transform": [{"window": [{"op": "mean", "field": "v", "as": "m"}], "frame": [-4, 0], "sort": [{"field": "i"}]}],
          "mark": {"type": "line", "color": "#cc33cc", "strokeWidth": 1.3},
          "encoding": {"x": {"field": "i", "type": "quantitative"}, "y": {"field": "m", "type": "quantitative"}}
        },
        {"data": {"values": [{}]}, "mark": {"type": "text", "align": "center", "baseline": "middle", "fontSize": 10, "color": "#9a9a9a"}, "encoding": {"x": {"datum": 0.14, "type": "quantitative"}, "y": {"datum": 32276, "type": "quantitative"}, "text": {"value": "■"}}},
        {"data": {"values": [{}]}, "mark": {"type": "text", "align": "left", "baseline": "middle", "color": "#2f8f8f"}, "encoding": {"x": {"datum": 1.56, "type": "quantitative"}, "y": {"datum": 32276, "type": "quantitative"}, "text": {"value": "거래량"}}},
        {"data": {"values": [{}]}, "mark": {"type": "text", "align": "left", "baseline": "middle", "color": "#cc33cc"}, "encoding": {"x": {"datum": 8.36, "type": "quantitative"}, "y": {"datum": 32276, "type": "quantitative"}, "text": {"value": "단순 5"}}},
        {"data": {"values": [{}]}, "mark": {"type": "text", "align": "left", "baseline": "middle", "color": "#f0a800"}, "encoding": {"x": {"datum": 14.7, "type": "quantitative"}, "y": {"datum": 32276, "type": "quantitative"}, "text": {"value": "20"}}},
        {"data": {"values": [{}]}, "mark": {"type": "text", "align": "left", "baseline": "middle", "color": "#1a9a3c"}, "encoding": {"x": {"datum": 17.9, "type": "quantitative"}, "y": {"datum": 32276, "type": "quantitative"}, "text": {"value": "60"}}},
        {"data": {"values": [{}]}, "mark": {"type": "text", "align": "left", "baseline": "middle", "color": "#808080"}, "encoding": {"x": {"datum": 21.1, "type": "quantitative"}, "y": {"datum": 32276, "type": "quantitative"}, "text": {"value": "120"}}},
        {"data": {"values": [{}]}, "mark": {"type": "text", "align": "left", "baseline": "middle", "color": "#000000"}, "encoding": {"x": {"datum": 0.14, "type": "quantitative"}, "y": {"datum": 27215, "type": "quantitative"}, "text": {"value": "17,888,373주(7,159,93%)"}}},
        {"data": {"values": [{}]}, "mark": {"type": "rect", "color": "#e81c10"}, "encoding": {"x": {"datum": 277.33, "type": "quantitative"}, "x2": {"datum": 286.2}, "y": {"datum": 20085, "type": "quantitative"}, "y2": {"datum": 15541}}},
        {"data": {"values": [{}]}, "mark": {"type": "text", "align": "left", "baseline": "middle", "font": "Liberation Sans", "fontSize": 13, "color": "#ffffff"}, "encoding": {"x": {"datum": 277.95, "type": "quantitative"}, "y": {"datum": 17869, "type": "quantitative"}, "text": {"value": "17,888K"}}},
        {"data": {"values": [{}]}, "mark": {"type": "text", "align": "left", "baseline": "middle", "font": "Liberation Sans", "fontSize": 13, "color": "#e81c10"}, "encoding": {"x": {"datum": 277.95, "type": "quantitative"}, "y": {"datum": 13436, "type": "quantitative"}, "text": {"value": "7159,93%"}}}
      ]
    },
    {
      "width": 1810,
      "height": 117,
      "data": {"name": "d"},
      "transform": [{"window": [{"op": "lag", "field": "c", "param": 1, "as": "pc"}], "sort": [{"field": "i"}]}],
      "layer": [
        {
          "transform": [{"filter": "datum.hl == 1"}],
          "mark": {"type": "rule", "color": "#ffccf6", "strokeWidth": 6},
          "encoding": {
            "x": {"field": "i", "type": "quantitative", "scale": {"domain": [-0.6, 276.6], "nice": false, "zero": false}, "axis": {"values": [21.5,42.5,63.5,84.5,104.5,125.5,147.5,167.5,186.5,208.5,229.5,249.5], "labels": false, "ticks": false, "domain": false, "title": null, "grid": true}}
          }
        },
        {
          "mark": {"type": "bar", "size": 5},
          "encoding": {
            "x": {"field": "i", "type": "quantitative"},
            "y": {"field": "a", "type": "quantitative", "scale": {"domain": [-4200, 237500], "nice": false, "zero": false}, "axis": {"orient": "right", "title": null, "values": [100000, 200000], "labelExpr": "datum.value == 200000 ? format(datum.value, ',') : ''", "tickSize": 6, "grid": true, "labelOverlap": false}},
            "y2": {"datum": 0},
            "color": {"condition": {"test": "datum.pc == null || datum.c >= datum.pc", "value": "#ff00ff"}, "value": "#00c8f8"}
          }
        },
        {"data": {"values": [{}]}, "mark": {"type": "text", "align": "center", "baseline": "middle", "fontSize": 10, "color": "#9a9a9a"}, "encoding": {"x": {"datum": 0.14, "type": "quantitative"}, "y": {"datum": 218288, "type": "quantitative"}, "text": {"value": "■"}}},
        {"data": {"values": [{}]}, "mark": {"type": "text", "align": "left", "baseline": "middle", "color": "#55559a"}, "encoding": {"x": {"datum": 1.56, "type": "quantitative"}, "y": {"datum": 218288, "type": "quantitative"}, "text": {"value": "거래대금"}}},
        {"data": {"values": [{}]}, "mark": {"type": "rect", "color": "#ff00ff"}, "encoding": {"x": {"datum": 277.33, "type": "quantitative"}, "x2": {"datum": 286.2}, "y": {"datum": 129459, "type": "quantitative"}, "y2": {"datum": 103843}}},
        {"data": {"values": [{}]}, "mark": {"type": "text", "align": "left", "baseline": "middle", "font": "Liberation Sans", "fontSize": 13, "color": "#ffffff"}, "encoding": {"x": {"datum": 277.95, "type": "quantitative"}, "y": {"datum": 116650, "type": "quantitative"}, "text": {"value": "115,928"}}},
        {"data": {"values": [{}]}, "mark": {"type": "text", "align": "left", "baseline": "middle", "font": "Liberation Sans", "fontSize": 13, "color": "#ff00ff"}, "encoding": {"x": {"datum": 277.95, "type": "quantitative"}, "y": {"datum": 92894, "type": "quantitative"}, "text": {"value": "8370,25%"}}}
      ]
    },
    {
      "width": 1810,
      "height": 117,
      "data": {"name": "d"},
      "resolve": {"scale": {"y": "independent"}},
      "layer": [
        {
          "mark": {"type": "area", "color": "#f9bb90", "opacity": 1},
          "encoding": {
            "x": {"field": "i", "type": "quantitative", "scale": {"domain": [-0.6, 276.6], "nice": false, "zero": false}},
            "y": {"field": "r", "type": "quantitative", "scale": {"domain": [70, 82.2], "range": [25.8, 0], "clamp": true, "nice": false, "zero": false}, "axis": null},
            "y2": {"datum": 70}
          }
        },
        {
          "layer": [
            {
              "transform": [{"filter": "datum.hl == 1"}],
              "mark": {"type": "rule", "color": "#ffccf6", "strokeWidth": 6},
              "encoding": {
                "x": {"field": "i", "type": "quantitative", "scale": {"domain": [-0.6, 276.6], "nice": false, "zero": false}, "axis": {"values": [-0.5,21.5,42.5,63.5,84.5,104.5,125.5,147.5,167.5,186.5,208.5,229.5,249.5], "title": null, "grid": true, "domain": false, "ticks": true, "tickSize": 18, "tickColor": "#8a8a8a", "labelAlign": "left", "labelBaseline": "top", "labelPadding": -16, "labelOffset": 3, "labelFontSize": 13.5, "labelColor": "#333333", "labelFlush": false, "labelOverlap": false, "labelBound": false, "labelExpr": "datum.value < 0 ? '2022/01' : datum.value < 22 ? '03' : datum.value < 43 ? '04' : datum.value < 64 ? '05' : datum.value < 85 ? '06' : datum.value < 105 ? '07' : datum.value < 126 ? '08' : datum.value < 148 ? '09' : datum.value < 168 ? '10' : datum.value < 187 ? '11' : datum.value < 209 ? '12' : datum.value < 230 ? '2023/01' : '02'"}}
              }
            },
            {
              "data": {"values": [{"y": 30}, {"y": 70}]},
              "mark": {"type": "rule", "color": "#808080", "strokeWidth": 1.5},
              "encoding": {"y": {"field": "y", "type": "quantitative", "scale": {"domain": [26.9, 82.2], "nice": false, "zero": false}}}
            },
            {
              "mark": {"type": "line", "color": "#ff6600", "strokeWidth": 1.2},
              "encoding": {
                "x": {"field": "i", "type": "quantitative"},
                "y": {"field": "r", "type": "quantitative", "scale": {"domain": [26.9, 82.2], "nice": false, "zero": false}, "axis": {"orient": "right", "title": null, "values": [40, 60], "labelExpr": "replace(format(datum.value, '.2f'), '.', ',')", "tickSize": 6, "grid": true, "labelOverlap": false}}
              }
            },
            {"data": {"values": [{}]}, "mark": {"type": "text", "align": "center", "baseline": "middle", "fontSize": 10, "color": "#9a9a9a"}, "encoding": {"x": {"datum": 0.14, "type": "quantitative"}, "y": {"datum": 77.8, "type": "quantitative"}, "text": {"value": "■"}}},
            {"data": {"values": [{}]}, "mark": {"type": "text", "align": "left", "baseline": "middle", "color": "#ff6600"}, "encoding": {"x": {"datum": 1.56, "type": "quantitative"}, "y": {"datum": 77.8, "type": "quantitative"}, "text": {"value": "RSI 18"}}},
            {"data": {"values": [{}]}, "mark": {"type": "text", "align": "left", "baseline": "middle", "font": "Liberation Sans", "fontSize": 13.5, "color": "#333333"}, "encoding": {"x": {"datum": 277.9, "type": "quantitative"}, "y": {"datum": 23.1, "type": "quantitative"}, "text": {"value": "02/22"}}}
          ]
        }
      ]
    }
  ]
}
